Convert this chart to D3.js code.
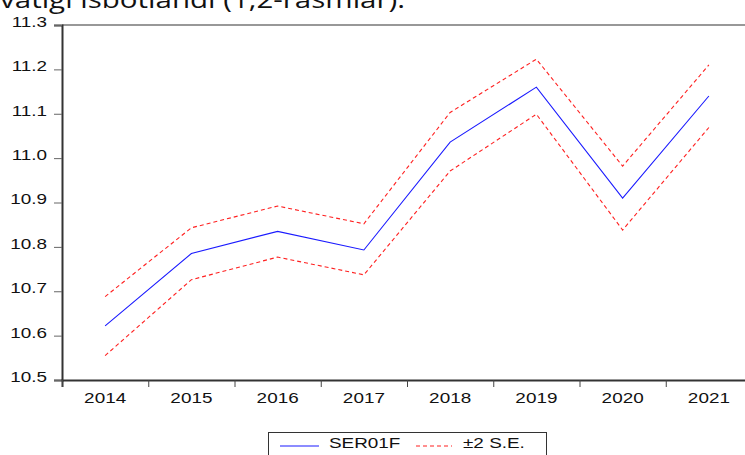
<!DOCTYPE html>
<html>
<head>
<meta charset="utf-8">
<script src="https://cdn.jsdelivr.net/npm/d3@7"></script>
<style>
  body { margin: 0; background: #fff; }
  svg { display: block; font-family: "Liberation Sans", Arial, sans-serif; }
</style>
</head>
<body>
<div class="chart"></div>
<script>
// forecast values
var years = [2014, 2015, 2016, 2017, 2018, 2019, 2020, 2021];
var ser01f = [10.622, 10.785, 10.835, 10.793, 11.036, 11.160, 10.910, 11.140];
var upper  = [10.688, 10.843, 10.892, 10.852, 11.103, 11.223, 10.982, 11.210];
var lower  = [10.555, 10.726, 10.777, 10.737, 10.971, 11.099, 10.838, 11.069];
var yTicks = [10.5, 10.6, 10.7, 10.8, 10.9, 11.0, 11.1, 11.2, 11.3];

const width = 745, height = 455;
const plotLeft = 62, plotRight = 752, plotTop = 25, plotBottom = 380;
const stretch = 1.35; // text in the picture is wider than it is tall

var svg = d3.select(".chart").append("svg")
  .attr("width", width)
  .attr("height", height);

// cut-off line of text above the chart
svg.append("text")
  .attr("x", 0).attr("y", 8)
  .attr("textLength", 405).attr("lengthAdjust", "spacingAndGlyphs")
  .style("font-family", "'Open Sans', sans-serif")
  .style("font-size", "24px")
  .attr("fill", "#111")
  .text("vatigi isbotlandi (1,2-rasmlar).");

var x = d3.scaleBand().domain(years).range([plotLeft, plotRight]).padding(0);
var xEdge = d3.scaleLinear().domain([0, years.length]).range([plotLeft, plotRight]);
var y = d3.scaleLinear().domain([10.5, 11.3]).range([plotBottom, plotTop]);

function widen(sel) {
  sel.selectAll(".tick text").each(function() {
    var t = d3.select(this);
    var tx = +t.attr("x") || 0, ty = +t.attr("y") || 0;
    t.attr("transform", "translate(" + tx + "," + ty + ") scale(" + stretch + ",1)")
     .attr("x", 0).attr("y", 0);
  });
}

// top frame line
svg.append("line")
  .attr("x1", plotLeft).attr("x2", plotRight)
  .attr("y1", plotTop).attr("y2", plotTop)
  .attr("stroke", "#333").attr("stroke-width", 1.2);

// y axis
var gy = svg.append("g")
  .attr("transform", "translate(" + plotLeft + ",0)")
  .call(d3.axisLeft(y).tickValues(yTicks).tickFormat(d3.format(".1f")).tickSize(8).tickPadding(7));
gy.select(".domain").attr("stroke", "#333").attr("stroke-width", 2);
gy.selectAll(".tick line").attr("stroke", "#666");
gy.selectAll(".tick text").attr("fill", "#111").style("font-size", "14px").attr("y", -3);
widen(gy);

// x axis: ticks at the edges of each year, labels in the middle
var gx = svg.append("g")
  .attr("transform", "translate(0," + plotBottom + ")")
  .call(d3.axisBottom(xEdge).tickValues(d3.range(years.length + 1)).tickFormat("").tickSize(7));
gx.select(".domain").attr("stroke", "#333").attr("stroke-width", 2);
gx.selectAll(".tick line").attr("stroke", "#444");

var gxl = svg.append("g")
  .attr("transform", "translate(0," + plotBottom + ")")
  .call(d3.axisBottom(x).tickSize(0).tickFormat(d3.format("d")));
gxl.select(".domain").remove();
gxl.selectAll(".tick text").attr("fill", "#111").style("font-size", "14px").attr("y", 13);
widen(gxl);

var line = d3.line()
  .x(function(d, i) { return x(years[i]) + x.bandwidth() / 2; })
  .y(function(d) { return y(d); });

svg.append("path").datum(upper)
  .attr("d", line).attr("fill", "none")
  .attr("stroke", "#ff2020").attr("stroke-width", 1.1).attr("stroke-dasharray", "4,3");
svg.append("path").datum(lower)
  .attr("d", line).attr("fill", "none")
  .attr("stroke", "#ff2020").attr("stroke-width", 1.1).attr("stroke-dasharray", "4,3");
svg.append("path").datum(ser01f)
  .attr("d", line).attr("fill", "none")
  .attr("stroke", "#1a1aff").attr("stroke-width", 1.1);

// legend
var legend = svg.append("g");
legend.append("rect")
  .attr("x", 268.5).attr("y", 432.5).attr("width", 278).attr("height", 30)
  .attr("fill", "#fff").attr("stroke", "#333");
legend.append("line")
  .attr("x1", 280).attr("x2", 319).attr("y1", 446).attr("y2", 446)
  .attr("stroke", "#1a1aff").attr("stroke-width", 1.1);
legend.append("text")
  .attr("transform", "translate(329,448) scale(" + stretch + ",1)")
  .style("font-size", "14px").attr("fill", "#111")
  .text("SER01F");
legend.append("line")
  .attr("x1", 416).attr("x2", 452).attr("y1", 446).attr("y2", 446)
  .attr("stroke", "#ff2020").attr("stroke-width", 1.1).attr("stroke-dasharray", "4,3");
legend.append("text")
  .attr("transform", "translate(463,448) scale(" + stretch + ",1)")
  .style("font-size", "14px").attr("fill", "#111")
  .text("±2 S.E.");
</script>
</body>
</html>
